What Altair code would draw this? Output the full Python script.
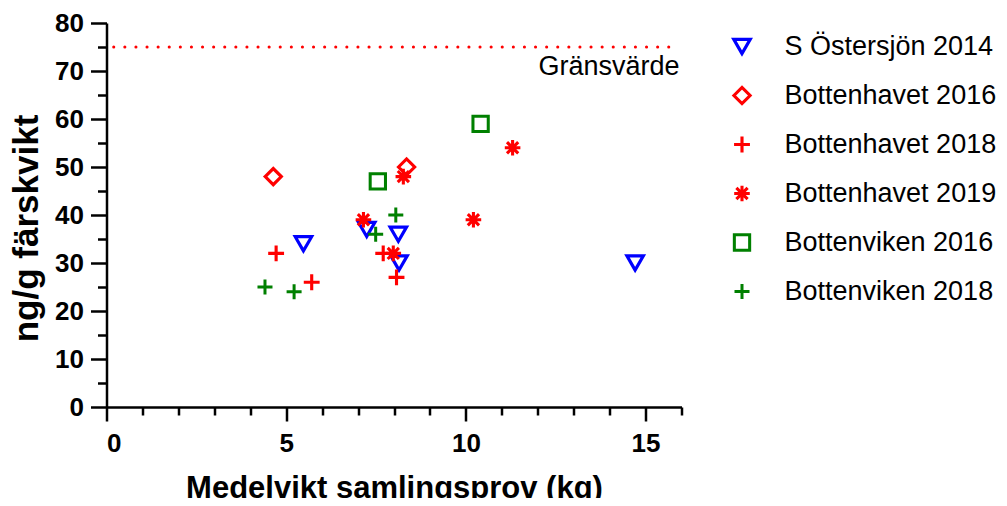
import altair as alt
import pandas as pd

series_names = ["S Östersjön 2014", "Bottenhavet 2016", "Bottenhavet 2018",
                "Bottenhavet 2019", "Bottenviken 2016", "Bottenviken 2018"]

s_ostersjon_2014_x = [5.48, 7.24, 8.12, 8.14, 14.71]
s_ostersjon_2014_y = [34, 37, 36, 30, 30]
bottenhavet_2016_x = [4.64, 8.35]
bottenhavet_2016_y = [48, 50]
bottenhavet_2018_x = [4.72, 5.71, 7.70, 8.07]
bottenhavet_2018_y = [32, 26, 32, 27]
bottenhavet_2019_x = [7.15, 7.98, 8.26, 10.21, 11.30]
bottenhavet_2019_y = [39, 32, 48, 39, 54]
bottenviken_2016_x = [7.55, 10.41]
bottenviken_2016_y = [47, 59]
bottenviken_2018_x = [4.41, 5.22, 7.49, 8.05]
bottenviken_2018_y = [25, 24, 36, 40]

limit_value = 75
limit_label = "Gränsvärde"

x_major = [0, 5, 10, 15]
x_minor = [1, 2, 3, 4, 6, 7, 8, 9, 11, 12, 13, 14, 16]
y_major = [0, 10, 20, 30, 40, 50, 60, 70, 80]
y_minor = [5, 15, 25, 35, 45, 55, 65, 75]

xs = [s_ostersjon_2014_x, bottenhavet_2016_x, bottenhavet_2018_x,
      bottenhavet_2019_x, bottenviken_2016_x, bottenviken_2018_x]
ys = [s_ostersjon_2014_y, bottenhavet_2016_y, bottenhavet_2018_y,
      bottenhavet_2019_y, bottenviken_2016_y, bottenviken_2018_y]

rows = []
for name, xv, yv in zip(series_names, xs, ys):
    for a, b in zip(xv, yv):
        rows.append({"series": name, "x": a, "y": b})
df = pd.DataFrame(rows)

colors = ["#0000FF", "#FF0000", "#FF0000", "#FF0000", "#008000", "#008000"]
plus_path = "M-1,0L1,0M0,-1L0,1"
aster_path = "M0,-1L0,1M-1,0L1,0M-0.72,-0.72L0.72,0.72M-0.72,0.72L0.72,-0.72"
shapes = ["triangle-down", "diamond", plus_path, aster_path, "square", plus_path]
sizes = [270, 225, 256, 225, 225, 256]
widths = [3.2, 3, 4, 1.3, 3.2, 4]

FONT = "Liberation Sans"
xscale = alt.Scale(domain=[0, 16], nice=False)
yscale = alt.Scale(domain=[0, 80], nice=False)

points = alt.Chart(df).mark_point(filled=False, opacity=1).encode(
    x=alt.X("x:Q", scale=xscale, title="Medelvikt samlingsprov (kg)",
            axis=alt.Axis(values=x_major, tickSize=14, tickWidth=2.5, domainWidth=2.5,
                          domainColor="black", tickColor="black", labelFontSize=26,
                          labelFontWeight="bold", labelColor="black", labelFont=FONT,
                          labelPadding=9, titleFont=FONT, titleFontSize=31,
                          titleFontWeight="bold", titleColor="black", titlePadding=17,
                          grid=False, orient="bottom")),
    y=alt.Y("y:Q", scale=yscale, title="ng/g färskvikt",
            axis=alt.Axis(values=y_major, tickSize=16, tickWidth=2.5, domainWidth=2.5,
                          domainColor="black", tickColor="black", labelFontSize=26,
                          labelFontWeight="bold", labelColor="black", labelFont=FONT,
                          labelPadding=7, titleFont=FONT, titleFontSize=35,
                          titleFontWeight="bold", titleColor="black", titlePadding=10,
                          titleY=205, grid=False, orient="left")),
    color=alt.Color("series:N", scale=alt.Scale(domain=series_names, range=colors),
                    legend=alt.Legend(title=None, orient="none", legendX=622, legendY=10,
                                      labelFont=FONT, labelFontSize=27, labelColor="black",
                                      labelLimit=0, rowPadding=20, labelOffset=29,
                                      symbolType="circle")),
    shape=alt.Shape("series:N", scale=alt.Scale(domain=series_names, range=shapes)),
    size=alt.Size("series:N", scale=alt.Scale(domain=series_names, range=sizes)),
    strokeWidth=alt.StrokeWidth("series:N", scale=alt.Scale(domain=series_names, range=widths)),
)

limit_df = pd.DataFrame({"x": [0.2], "x2": [15.8], "y": [limit_value], "label": [limit_label]})

limit_line = alt.Chart(limit_df).mark_rule(color="#FF0000", strokeWidth=3,
                                           strokeDash=[0.1, 11], strokeCap="round").encode(
    x=alt.X("x:Q", scale=xscale,
            axis=alt.Axis(values=x_minor, tickSize=8, tickWidth=2.5, tickColor="black",
                          labels=False, domain=False, title=None, grid=False, orient="bottom")),
    x2="x2:Q",
    y=alt.Y("y:Q", scale=yscale,
            axis=alt.Axis(values=y_minor, tickSize=9, tickWidth=2.5, tickColor="black",
                          labels=False, domain=False, title=None, grid=False, orient="left")),
)

limit_text = alt.Chart(limit_df).mark_text(align="right", baseline="top", dy=7, dx=-2,
                                           font=FONT, fontSize=27, color="black").encode(
    x=alt.X("x_end:Q", scale=xscale, axis=None),
    y=alt.Y("y:Q", scale=yscale, axis=None),
    text="label:N",
).transform_calculate(x_end="16")

chart = alt.layer(limit_line, limit_text, points).resolve_axis(
    x="independent", y="independent"
).properties(
    width=575, height=384,
    autosize=alt.AutoSizeParams(type="none"),
    padding={"left": 98.5, "top": 15, "right": 317, "bottom": 91},
).configure_view(stroke=None).configure_axis(grid=False)

chart.save("out.html", embed_options={"renderer": "svg", "actions": False})
